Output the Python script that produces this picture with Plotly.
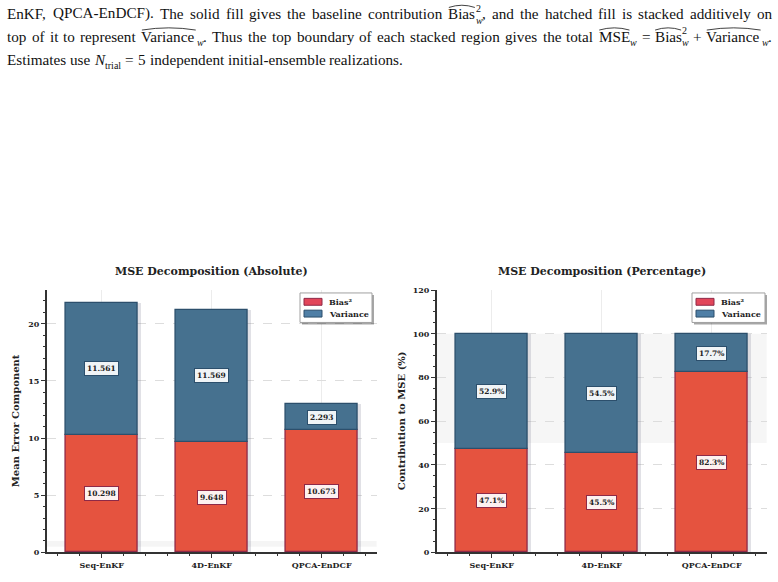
import os
import struct
import plotly.graph_objects as go

# ---------------- data ----------------
methods = ["Seq-EnKF", "4D-EnKF", "QPCA-EnDCF"]
bias_sq = [10.298, 9.648, 10.673]
variance = [11.561, 11.569, 2.293]
series_names = ["Bias²", "Variance"]

totals = [b + v for b, v in zip(bias_sq, variance)]
bias_pct = [100 * b / t for b, t in zip(bias_sq, totals)]
var_pct = [100 * v / t for v, t in zip(variance, totals)]

left_yticks = [0, 5, 10, 15, 20]
right_yticks = [0, 20, 40, 60, 80, 100, 120]

# ---------------- style ----------------
W, H = 778, 582
SERIF = "DejaVu Serif"
BIAS_FILL = "#e5533f"
BIAS_EDGE = "#8e2947"
VAR_FILL = "#46718f"
VAR_EDGE = "#2c4f6c"
BIAS_LEG = "#e2465a"
VAR_LEG = "#4f7fa6"
SHADOW = "rgba(120,120,140,0.22)"
BAR_W = 0.65
SHADOW_DX = 0.03

xpos = list(range(len(methods)))

fig = go.Figure()

panels = [
    dict(xa="x", ya="y", b=bias_sq, v=variance, fmt="{:.3f}"),
    dict(xa="x2", ya="y2", b=bias_pct, v=var_pct, fmt="{:.1f}%"),
]

for p in panels:
    tot = [b + v for b, v in zip(p["b"], p["v"])]
    fig.add_trace(go.Bar(
        x=[x + SHADOW_DX for x in xpos], y=tot, width=BAR_W,
        marker=dict(color=SHADOW, line=dict(width=0)),
        xaxis=p["xa"], yaxis=p["ya"], showlegend=False, hoverinfo="skip"))
    fig.add_trace(go.Bar(
        x=xpos, y=p["b"], width=BAR_W, name=series_names[0],
        marker=dict(color=BIAS_FILL, line=dict(color=BIAS_EDGE, width=1.3)),
        xaxis=p["xa"], yaxis=p["ya"], showlegend=False))
    fig.add_trace(go.Bar(
        x=xpos, y=p["v"], width=BAR_W, name=series_names[1],
        marker=dict(color=VAR_FILL, line=dict(color=VAR_EDGE, width=1.3)),
        xaxis=p["xa"], yaxis=p["ya"], showlegend=False))
    for i in xpos:
        fig.add_annotation(x=i, y=p["b"][i] / 2, xref=p["xa"], yref=p["ya"],
                           text=p["fmt"].format(p["b"][i]), showarrow=False,
                           font=dict(family=SERIF, size=7.5, color="#222", weight="bold"),
                           bgcolor="rgba(255,255,255,0.92)", bordercolor=BIAS_EDGE,
                           borderwidth=1, borderpad=2)
        fig.add_annotation(x=i, y=p["b"][i] + p["v"][i] / 2, xref=p["xa"], yref=p["ya"],
                           text=p["fmt"].format(p["v"][i]), showarrow=False,
                           font=dict(family=SERIF, size=7.5, color="#222", weight="bold"),
                           bgcolor="rgba(255,255,255,0.92)", bordercolor=VAR_EDGE,
                           borderwidth=1, borderpad=2)

fig.add_shape(type="rect", xref="x domain", yref="y", x0=0, x1=1, y0=0.5, y1=1.0,
              fillcolor="rgba(0,0,0,0.04)", line=dict(width=0), layer="below")
fig.add_shape(type="rect", xref="x2 domain", yref="y2", x0=0, x1=1, y0=50, y1=100,
              fillcolor="rgba(0,0,0,0.035)", line=dict(width=0), layer="below")

xl = [46.7 / W, 376.7 / W]
xr = [436.7 / W, 766.7 / W]
yd = [25 / H, 292 / H]


def xax(domain, anchor):
    return dict(domain=domain, anchor=anchor, range=[-0.5, 2.5],
                tickvals=xpos, ticktext=methods,
                tickfont=dict(family=SERIF, size=8, color="#222", weight="bold"),
                ticks="outside", ticklen=4, tickwidth=1, tickcolor="#333",
                showline=True, linecolor="#333", linewidth=1.5,
                showgrid=True, gridcolor="#ececec", gridwidth=1,
                zeroline=False,
                minor=dict(tickvals=[-0.4, -0.2, 0.2, 0.4, 0.6, 0.8, 1.2, 1.4, 1.6, 1.8, 2.2, 2.4],
                           ticks="outside", ticklen=2, tickcolor="#333", showgrid=False))


def yax(domain, anchor, rng, tv, mdt):
    return dict(domain=domain, anchor=anchor, range=rng, tickvals=tv,
                tickfont=dict(family=SERIF, size=8, color="#222", weight="bold"),
                ticks="outside", ticklen=4, tickwidth=1, tickcolor="#333",
                showline=True, linecolor="#333", linewidth=1.5,
                showgrid=True, gridcolor="#dddddd", griddash="dash", gridwidth=1,
                zeroline=False,
                minor=dict(dtick=mdt, tick0=0, ticks="outside", ticklen=2,
                           tickcolor="#333", showgrid=False))


fig.update_layout(
    width=W, height=H, margin=dict(l=0, r=0, t=0, b=0),
    paper_bgcolor="white", plot_bgcolor="white",
    barmode="relative", bargap=0, showlegend=False,
    xaxis=xax(xl, "y"), yaxis=yax(yd, "x", [0, max(totals) * 1.05], left_yticks, 1),
    xaxis2=xax(xr, "y2"), yaxis2=yax(yd, "x2", [0, 120], right_yticks, 5),
)


def px(xp):
    return xp / W


def py(yp):
    return 1 - yp / H


# hand-built legends
for bx0, bx1 in [(300, 372), (692, 765)]:
    by0, by1 = 293, 323
    fig.add_shape(type="rect", xref="paper", yref="paper",
                  x0=px(bx0 + 2), x1=px(bx1 + 2), y0=py(by1 + 2), y1=py(by0 + 2),
                  fillcolor="rgba(0,0,0,0.35)", line=dict(width=0), layer="above")
    fig.add_shape(type="rect", xref="paper", yref="paper",
                  x0=px(bx0), x1=px(bx1), y0=py(by1), y1=py(by0),
                  fillcolor="white", line=dict(color="#a0a0a0", width=1), layer="above")
    for k, (nm, fc, ec) in enumerate(zip(series_names, [BIAS_LEG, VAR_LEG], [BIAS_EDGE, VAR_EDGE])):
        cy = 302 + 12 * k
        fig.add_shape(type="rect", xref="paper", yref="paper",
                      x0=px(bx0 + 4), x1=px(bx0 + 22), y0=py(cy + 3.5), y1=py(cy - 3.5),
                      fillcolor=fc, line=dict(color=ec, width=1), layer="above")
        fig.add_annotation(x=px(bx0 + 27), y=py(cy), xref="paper", yref="paper",
                           text=nm, showarrow=False, xanchor="left", yanchor="middle",
                           font=dict(family=SERIF, size=8, color="#222", weight="bold"))

for txt, dom in [("MSE Decomposition (Absolute)", xl), ("MSE Decomposition (Percentage)", xr)]:
    fig.add_annotation(x=(dom[0] + dom[1]) / 2, y=py(271), xref="paper", yref="paper",
                       text=txt, showarrow=False, xanchor="center", yanchor="middle",
                       font=dict(family=SERIF, size=11, color="#222", weight="bold"))

for txt, xp in [("Mean Error Component", 15), ("Contribution to MSE (%)", 401)]:
    fig.add_annotation(x=px(xp), y=(yd[0] + yd[1]) / 2, xref="paper", yref="paper",
                       text=txt, showarrow=False, textangle=-90,
                       xanchor="center", yanchor="middle",
                       font=dict(family=SERIF, size=10, color="#222", weight="bold"))


# ---------------- caption (typeset word by word, justified) ----------------
def find_font(name):
    for root in ["/usr/share/fonts", "/usr/local/share/fonts", os.path.expanduser("~/.fonts")]:
        for dp, _, files in os.walk(root):
            if name in files:
                return os.path.join(dp, name)
    return None


def load_width_fn(name):
    path = find_font(name)
    try:
        data = open(path, "rb").read()
        num = struct.unpack(">H", data[4:6])[0]
        tables = {}
        for i in range(num):
            tag, _, off, ln = struct.unpack(">4sIII", data[12 + 16 * i:28 + 16 * i])
            tables[tag.decode("latin1")] = off
        upem = struct.unpack(">H", data[tables["head"] + 18:tables["head"] + 20])[0]
        nhm = struct.unpack(">H", data[tables["hhea"] + 34:tables["hhea"] + 36])[0]
        ho = tables["hmtx"]
        adv = [struct.unpack(">H", data[ho + 4 * i:ho + 4 * i + 2])[0] for i in range(nhm)]
        co = tables["cmap"]
        nsub = struct.unpack(">H", data[co + 2:co + 4])[0]
        so = None
        for i in range(nsub):
            pid, eid, off = struct.unpack(">HHI", data[co + 4 + 8 * i:co + 12 + 8 * i])
            if pid == 3 and eid == 1:
                so = co + off
        segx2 = struct.unpack(">H", data[so + 6:so + 8])[0]
        seg = segx2 // 2
        ends = struct.unpack(">%dH" % seg, data[so + 14:so + 14 + segx2])
        so_st = so + 16 + segx2
        starts = struct.unpack(">%dH" % seg, data[so_st:so_st + segx2])
        so_d = so_st + segx2
        deltas = struct.unpack(">%dh" % seg, data[so_d:so_d + segx2])
        so_r = so_d + segx2
        ros = struct.unpack(">%dH" % seg, data[so_r:so_r + segx2])

        def gid(c):
            for i in range(seg):
                if ends[i] >= c:
                    if starts[i] > c:
                        return 0
                    if ros[i] == 0:
                        return (c + deltas[i]) & 0xFFFF
                    addr = so_r + 2 * i + ros[i] + 2 * (c - starts[i])
                    g = struct.unpack(">H", data[addr:addr + 2])[0]
                    return (g + deltas[i]) & 0xFFFF if g else 0
            return 0

        def width(text, size):
            t = 0
            for ch in text:
                g = gid(ord(ch))
                t += adv[g] if g < nhm else adv[-1]
            return t * size / upem
        return width
    except Exception:
        return lambda text, size: len(text) * 0.46 * size


w_reg = load_width_fn("LiberationSerif-Regular.ttf")
w_ita = load_width_fn("LiberationSerif-Italic.ttf")

FS = 15.2
SS = 10.0
KIND = {  # size, italic?, baseline shift
    "r": (FS, False, 0.0),
    "i": (FS, True, 0.0),
    "sub": (SS, True, 4.3),
    "subr": (SS, False, 4.0),
    "sup": (SS, False, -7.7),
}
MATH_GAP = 4.5


def R(t, hat=False):
    return (t, "r", hat)


line1 = [[R("EnKF,")], [R("QPCA-EnDCF).")], [R("The")], [R("solid")], [R("fill")], [R("gives")],
         [R("the")], [R("baseline")], [R("contribution")],
         [R("Bias", True), ("w", "sub", False), ("2", "sup", False), R(",")],
         [R("and")], [R("the")], [R("hatched")], [R("fill")], [R("is")], [R("stacked")],
         [R("additively")], [R("on")]]
line2 = [[R("top")], [R("of")], [R("it")], [R("to")], [R("represent")],
         [R("Variance", True), ("w", "sub", False), R(".")],
         [R("Thus")], [R("the")], [R("top")], [R("boundary")], [R("of")], [R("each")],
         [R("stacked")], [R("region")], [R("gives")], [R("the")], [R("total")],
         [R("MSE", True), ("w", "sub", False)], [R("=")],
         [R("Bias", True), ("w", "sub", False), ("2", "sup", False)], [R("+")],
         [R("Variance", True), ("w", "sub", False), R(".")]]
line3 = [[R("Estimates")], [R("use")], [("N", "i", False), ("trial", "subr", False)], [R("=")],
         [R("5")], [R("independent")], [R("initial-ensemble")], [R("realizations.")]]


def layout_word(runs):
    x, items, last_sub = 0.0, [], None
    for t, k, hat in runs:
        fs, ital, _ = KIND[k]
        w = (w_ita if ital else w_reg)(t, fs)
        if k in ("sub", "subr"):
            x += 0.4
        if k == "sup" and last_sub is not None:
            items.append((last_sub[0], t, k, hat, w))
            x = max(x, last_sub[0] + w)
            last_sub = None
            continue
        items.append((x, t, k, hat, w))
        last_sub = (x, w) if k in ("sub", "subr") else None
        x += w
    return items, x


def is_math(word):
    return len(word) == 1 and word[0][0] in ("=", "+")


LEFT, RIGHT = 7.0, 772.0
for words, base, justify in [(line1, 14.5, True), (line2, 37.5, True), (line3, 60.5, False)]:
    laid = [layout_word(wd) for wd in words]
    total_w = sum(w for _, w in laid)
    fixed = [is_math(words[j]) or is_math(words[j + 1]) for j in range(len(words) - 1)]
    n_fixed = sum(fixed)
    n_free = len(fixed) - n_fixed
    if justify:
        free_gap = max(2.0, (RIGHT - LEFT - total_w - n_fixed * MATH_GAP) / n_free)
    else:
        free_gap = w_reg(" ", FS)
    gaps = [MATH_GAP if f else free_gap for f in fixed] + [0]
    xc = LEFT
    for (items, ww), g in zip(laid, gaps):
        for ox, t, k, hat, w in items:
            fs, ital, shift = KIND[k]
            bl = base + shift
            fig.add_annotation(x=px(xc + ox), y=py(bl + 0.216 * fs), xref="paper", yref="paper",
                               text=t, showarrow=False, xanchor="left", yanchor="bottom",
                               borderpad=0, borderwidth=0,
                               font=dict(family="Liberation Serif", size=fs, color="#111",
                                         style="italic" if ital else "normal"))
            if hat:
                x0, x1 = xc + ox + 0.5, xc + ox + w - 0.5
                yb, yt = base - 12.0, base - 16.5
                fig.add_shape(type="path", xref="paper", yref="paper",
                              path="M %.5f,%.5f Q %.5f,%.5f %.5f,%.5f" % (
                                  px(x0), py(yb), px((x0 + x1) / 2), py(yt), px(x1), py(yb)),
                              line=dict(color="#111", width=0.8), layer="above")
        xc += ww + g

fig.write_html("out.html")
